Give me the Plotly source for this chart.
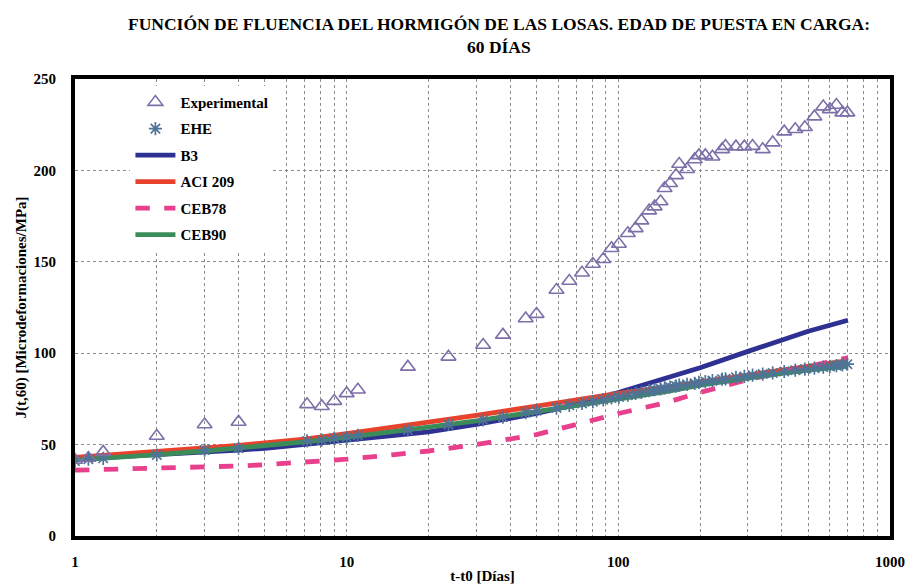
import plotly.graph_objects as go

# ---------------- data ----------------
exp_t = [1, 1.12, 1.27, 2, 3, 4, 7.15, 8.1, 9, 10, 11, 16.8, 23.7, 31.8, 37.6, 45.6, 50,
         59.2, 66, 73.5, 80.6, 88, 94.4, 100.5, 108.4, 115.8, 121.6, 129.8, 136, 143, 148,
         155, 163, 167.5, 179, 191, 198, 209, 222, 241, 248, 271, 291, 312, 340, 370, 408,
         448, 486, 527, 568, 601, 635, 668, 697]
exp_j = [41.6, 42.7, 46, 54.7, 61, 62.4, 72, 71, 73.8, 78, 80, 92.5, 98, 104.5, 110, 119,
         121.4, 134.6, 139.5, 144, 148.8, 151.4, 157.4, 159.7, 165.6, 168.3, 172.5, 178,
         180.2, 183, 190.2, 193, 197.3, 203.5, 200.6, 206, 208.2, 208.2, 207.5, 211.5,
         213.3, 213, 213, 213.3, 211.5, 215.2, 221.2, 222.5, 223.6, 229.4, 234.9, 233.4,
         235.8, 231.6, 231.6]
ehe_j = [41, 42, 42.5, 44.3, 47, 48, 52, 52.5, 53.5, 54, 55, 58, 61, 63.5, 65, 67.5, 68.5,
         70, 71.5, 72.5, 73.5, 74.5, 75.5, 76, 77, 78, 78.5, 79.5, 80, 80.5, 81, 81.5, 82,
         82.5, 83, 83.5, 84, 84.5, 85, 85.8, 86, 86.8, 87.3, 88, 88.6, 89.2, 90, 90.7, 91.3,
         91.8, 92.4, 92.8, 93.2, 93.6, 94]

model_t = [1, 1.5, 2, 3, 4, 5, 7, 10, 15, 20, 30, 50, 70, 100, 150, 200, 300, 400, 500, 700]
b3_j = [42, 43.3, 44.5, 46, 47, 48, 50, 52.5, 55, 57, 61, 67, 72, 78.5, 86, 92, 101, 107, 112, 118]
aci_j = [43, 44.8, 46, 48, 49.5, 51, 53, 56, 59.5, 62, 66, 71, 74.5, 78, 81.5, 84, 88, 90.8, 92.8, 96]
ceb78_j = [36, 36.5, 37, 37.5, 38.3, 39, 40.5, 42, 44.5, 46.5, 50, 55.5, 61, 67, 73, 78.5, 85.5, 89.8, 92.5, 97.5]
ceb90_j = [41.5, 43, 44.5, 46.5, 48, 49.3, 51.5, 54, 57, 59.5, 63, 68, 71.5, 75, 79, 82.5, 86.5, 89, 90.8, 93]

x_major = [1, 10, 100, 1000]
x_major_labels = ["1", "10", "100", "1000"]
x_minor = [2, 3, 4, 5, 6, 7, 8, 9, 20, 30, 40, 50, 60, 70, 80, 90,
           200, 300, 400, 500, 600, 700, 800, 900]
y_ticks = [0, 50, 100, 150, 200, 250]

title_line1 = "FUNCIÓN DE FLUENCIA DEL HORMIGÓN DE LAS LOSAS. EDAD DE PUESTA EN CARGA:"
title_line2 = "60 DÍAS"

# ---------------- style ----------------
SERIF = "Liberation Serif"
GRID = "#8c8c8c"

fig = go.Figure()

line_specs = [
    ("B3", b3_j, "#2E3192", "solid", 3),
    ("ACI 209", aci_j, "#E8412C", "solid", 4),
    ("CEB78", ceb78_j, "#E8408C", "dash", 5),
    ("CEB90", ceb90_j, "#3C8C5A", "solid", 6),
]
for name, vals, col, dash, rank in line_specs:
    fig.add_trace(go.Scatter(
        x=model_t, y=vals, mode="lines", name=name,
        line=dict(color=col, width=4.8, dash=dash),
        legendrank=rank, legendgroup=name,
    ))

fig.add_trace(go.Scatter(
    x=exp_t, y=ehe_j, mode="markers", name="EHE",
    marker=dict(symbol="asterisk-open", size=11, color="#4F7396",
                line=dict(color="#4F7396", width=1.7)),
    legendrank=2, legendgroup="EHE",
))
fig.add_trace(go.Scatter(
    x=exp_t, y=exp_j, mode="markers", name="Experimental",
    marker=dict(symbol="triangle-up-open", size=13, color="#7F6FA8",
                line=dict(color="#7F6FA8", width=1.6)),
    legendrank=1, legendgroup="Experimental",
))

tickfont = dict(family=SERIF, size=15, color="black", weight="bold")

fig.update_layout(
    width=907, height=586,
    margin=dict(l=75, r=17, t=79, b=50),
    paper_bgcolor="white", plot_bgcolor="white",
    showlegend=True,
    legend=dict(
        x=0.068, y=0.985, xanchor="left", yanchor="top",
        bgcolor="white", borderwidth=0,
        font=dict(family=SERIF, size=15, color="black", weight="bold"),
        traceorder="grouped", tracegroupgap=4,
        itemwidth=40,
    ),
    annotations=[
        dict(text=title_line1, x=0.52, y=1.12, xref="paper", yref="paper",
             showarrow=False, xanchor="center", yanchor="middle",
             font=dict(family=SERIF, size=17.5, color="black", weight="bold")),
        dict(text=title_line2, x=0.52, y=1.07, xref="paper", yref="paper",
             showarrow=False, xanchor="center", yanchor="middle",
             font=dict(family=SERIF, size=17.5, color="black", weight="bold")),
    ],
)

fig.update_xaxes(
    type="log", range=[0, 3], automargin=False,
    tickmode="array", tickvals=x_major, ticktext=x_major_labels,
    ticks="", tickfont=tickfont, ticklabelstandoff=9,
    showgrid=True, gridcolor=GRID, griddash="dot", gridwidth=1,
    minor=dict(tickmode="array", tickvals=x_minor, showgrid=True,
               gridcolor=GRID, griddash="dot", gridwidth=1, ticks=""),
    showline=True, linecolor="black", linewidth=4, mirror=True,
    zeroline=False,
    title=dict(text="t-t0 [Días]", standoff=2,
               font=dict(family=SERIF, size=15, color="black", weight="bold")),
)
fig.update_yaxes(
    range=[0, 250], tickmode="array", tickvals=y_ticks, automargin=False,
    ticks="", tickfont=tickfont, ticklabelstandoff=12,
    showgrid=True, gridcolor=GRID, griddash="dot", gridwidth=1,
    showline=True, linecolor="black", linewidth=4, mirror=True,
    zeroline=False,
    title=dict(text="J(t,60) [Microdeformaciones/MPa]", standoff=4,
               font=dict(family=SERIF, size=15, color="black", weight="bold")),
)

fig.write_html("out.html")
